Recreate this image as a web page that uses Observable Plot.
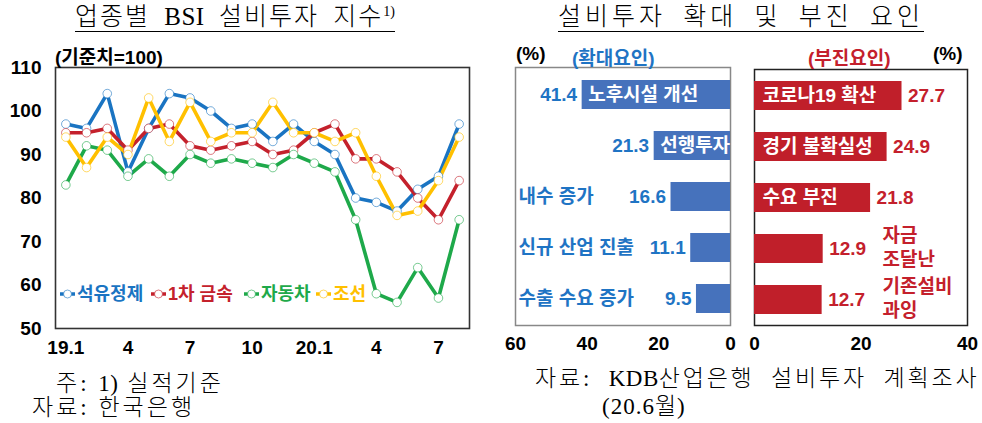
<!DOCTYPE html>
<html><head><meta charset="utf-8">
<script src="https://cdn.jsdelivr.net/npm/d3@7"></script>
<script src="https://cdn.jsdelivr.net/npm/@observablehq/plot@0.6"></script>
<style>
body{margin:0;background:#fff;}
#wrap{position:relative;width:982px;height:423px;overflow:hidden;background:#fff;}
.abs{position:absolute;white-space:nowrap;}
.serif{font-family:"Liberation Serif","DejaVu Serif","Noto Sans CJK KR",serif;color:#000;font-weight:300;}
.note{font-size:23px;line-height:26px;}
.lat{letter-spacing:0.5px;}
.bold{font-family:"Liberation Sans","Noto Sans CJK KR",sans-serif;font-weight:bold;}
.title{font-size:25px;line-height:28px;border-bottom:1.3px solid #000;letter-spacing:2px;word-spacing:6px;}
.plot{position:absolute;}
</style></head>
<body><div id="wrap"></div>
<script>
// ---------- data ----------
const months = d3.range(1, 21); // 19.1 .. 20.8
const seriesNames = ["석유정제", "1차 금속", "자동차", "조선"];
const petro = [97,96,104,86,96,104,103,100,96,97,93,97,93,90,80,79,77,82,85,97];
const metal = [95,95,96,91,96,97,92,91,92,93,90,91,95,97,89,89,86,80,75,84];
const auto  = [83,92,91,85,89,85,90,88,89,88,87,90,88,86,75,58,56,64,57,75];
const ship  = [94,87,94,90,103,93,102,93,95,95,102,95,95,93,95,85,76,77,84,94];
const xTickPos = [1,4,7,10,13,16,19];
const xTickLabels = ["19.1","4","7","10","20.1","4","7"];
const yTicks = [50,60,70,80,90,100,110];

const expandCats = ["노후시설 개선","선행투자","내수 증가","신규 산업 진출","수출 수요 증가"];
const expandVals = [41.4,21.3,16.6,11.1,9.5];
const weakCats = ["코로나19 확산","경기 불확실성","수요 부진","자금\n조달난","기존설비\n과잉"];
const weakVals = [27.7,24.9,21.8,12.9,12.7];
const leftTicks = [0,20,40,60];
const rightTicks = [0,20,40];

// ---------- styles ----------
const lineColors = ["#1a74c2","#c4212c","#1ea94a","#ffc000"];
const blueBar = "#4672bc", blueText = "#1f74c4";
const redBar = "#c01f2a", redText = "#c4202c";
const sans = '"Liberation Sans","Noto Sans CJK KR",sans-serif';

const wrap = document.getElementById("wrap");
function addHTML(html){ wrap.insertAdjacentHTML("beforeend", html); }
function place(el, left, top){ el.classList.add("plot"); el.style.left = left+"px"; el.style.top = top+"px"; wrap.appendChild(el); }

// ---------- line chart ----------
const seriesArr = [petro, metal, auto, ship];
const lineData = [];
seriesArr.forEach((arr, si) => arr.forEach((v, i) => lineData.push({m: months[i], v, s: seriesNames[si]})));

const lineChart = Plot.plot({
  width: 490, height: 362,
  marginLeft: 55, marginRight: 21, marginTop: 67, marginBottom: 34,
  style: {fontFamily: sans, fontSize: "19px", fontWeight: "bold", color: "#000", background: "transparent"},
  x: {domain: [0.5, 20.5], ticks: xTickPos, tickFormat: d => xTickLabels[xTickPos.indexOf(d)], tickSize: 0, tickPadding: 12, label: null},
  y: {domain: [50, 110], ticks: yTicks, tickSize: 0, tickPadding: 14, label: null},
  color: {domain: seriesNames, range: lineColors},
  marks: [
    Plot.line(lineData, {x: "m", y: "v", z: "s", stroke: "s", strokeWidth: 3.6}),
    Plot.dot(lineData, {x: "m", y: "v", stroke: "s", fill: "white", r: 4.3, strokeWidth: 1, strokeOpacity: 0.6}),
    Plot.frame({stroke: "#333", strokeWidth: 1.6})
  ]
});
place(lineChart, 0, 0);

// ---------- expansion factors (left bars) ----------
const numStyle = {fontSize: 19, fontWeight: "bold", letterSpacing: "1px"};
const expData = expandCats.map((c, i) => ({c, v: expandVals[i]}));
const expChart = Plot.plot({
  width: 250, height: 320,
  marginLeft: 25, marginRight: 10, marginTop: 27, marginBottom: 35,
  style: {fontFamily: sans, fontSize: "19px", fontWeight: "bold", color: "#000", background: "transparent"},
  x: {domain: [0, 60], reverse: true, ticks: leftTicks, tickSize: 0, tickPadding: 11, label: null},
  y: {domain: expandCats, axis: null, paddingInner: 0.44, paddingOuter: 0.22},
  marks: [
    Plot.frame({stroke: "#888", strokeWidth: 1.5}),
    Plot.barX(expData, {x: "v", y: "c", fill: blueBar}),
    Plot.text(expData, {x: "v", y: "c", text: d => d.v.toFixed(1), textAnchor: "end", dx: -5, fill: blueText, ...numStyle}),
    Plot.text(expData.filter(d => d.v > 20), {x: "v", y: "c", text: "c", textAnchor: "start", dx: 6, fill: "white", fontSize: 19, fontWeight: "bold"}),
    Plot.text(expData.filter(d => d.v <= 20), {frameAnchor: "left", y: "c", text: "c", textAnchor: "start", dx: 3, fill: blueText, fontSize: 19, fontWeight: "bold"})
  ]
});
place(expChart, 490, 40);

// ---------- weakness factors (right bars) ----------
const weakData = weakCats.map((c, i) => ({c, v: weakVals[i]}));
const weakChart = Plot.plot({
  width: 242, height: 320,
  marginLeft: 14, marginRight: 15, marginTop: 29, marginBottom: 35,
  style: {fontFamily: sans, fontSize: "19px", fontWeight: "bold", color: "#000", background: "transparent"},
  x: {domain: [0, 40], ticks: rightTicks, tickSize: 0, tickPadding: 11, label: null},
  y: {domain: weakCats, axis: null, paddingInner: 0.44, paddingOuter: 0.22},
  marks: [
    Plot.frame({stroke: "#222", strokeWidth: 1.5}),
    Plot.barX(weakData, {x: "v", y: "c", fill: redBar}),
    Plot.text(weakData, {x: "v", y: "c", text: d => d.v.toFixed(1), textAnchor: "start", dx: 6, fill: redText, ...numStyle}),
    Plot.text(weakData.filter(d => d.v > 20), {x: 0, y: "c", text: "c", textAnchor: "start", dx: 8, fill: "white", fontSize: 19, fontWeight: "bold"}),
    Plot.text(weakData.filter(d => d.v <= 20), {frameAnchor: "right", y: "c", text: "c", textAnchor: "start", dx: -85, dy: -3, lineHeight: 1.3, fill: redText, fontSize: 19, fontWeight: "bold"})
  ]
});
place(weakChart, 740, 40);

// ---------- texts ----------
addHTML(`<div class="abs serif title" style="left:75px;top:3px;">업종별 <span class="lat">BSI</span> 설비투자 지수<sup style="font-size:14px;vertical-align:9px;line-height:0;letter-spacing:0">1)</sup></div>`);
addHTML(`<div class="abs bold" style="left:55px;top:42px;font-size:19px;color:#000">(기준치=100)</div>`);
addHTML(`<div class="abs serif note" style="left:56px;top:371px;letter-spacing:3px;">주: <span class="lat">1)</span> 실적기준</div>`);
addHTML(`<div class="abs serif note" style="left:32px;top:395px;letter-spacing:3px;">자료: 한국은행</div>`);

addHTML(`<div class="abs serif title" style="left:558px;top:3px;letter-spacing:4px;word-spacing:7px;">설비투자 확대 및 부진 요인</div>`);
addHTML(`<div class="abs bold" style="left:516px;top:43px;font-size:19px;color:#000">(%)</div>`);
addHTML(`<div class="abs bold" style="left:572px;top:43px;font-size:19px;color:${blueText}">(확대요인)</div>`);
addHTML(`<div class="abs bold" style="left:808px;top:43px;font-size:19px;color:${redText}">(부진요인)</div>`);
addHTML(`<div class="abs bold" style="left:933px;top:43px;font-size:19px;color:#000">(%)</div>`);
addHTML(`<div class="abs serif note" style="left:535px;top:366px;letter-spacing:2.8px;word-spacing:8px;">자료: <span class="lat">KDB</span>산업은행 설비투자 계획조사</div>`);
addHTML(`<div class="abs serif note" style="left:602px;top:394px;letter-spacing:1px;">(20.6월)</div>`);

// legend inside line chart
const legendX = [59, 150, 243, 315];
seriesNames.forEach((n, i) => {
  const c = lineColors[i];
  addHTML(`<div class="abs bold" style="left:${legendX[i]}px;top:283px;font-size:18px;line-height:22px;color:${c};display:flex;align-items:center;">
    <svg width="17" height="12" style="margin-right:1px"><line x1="1" y1="6" x2="16" y2="6" stroke="${c}" stroke-width="3.5"/><circle cx="8.5" cy="6" r="4" fill="white" stroke="${c}" stroke-opacity="0.6"/></svg>${n}</div>`);
});
</script></body></html>
